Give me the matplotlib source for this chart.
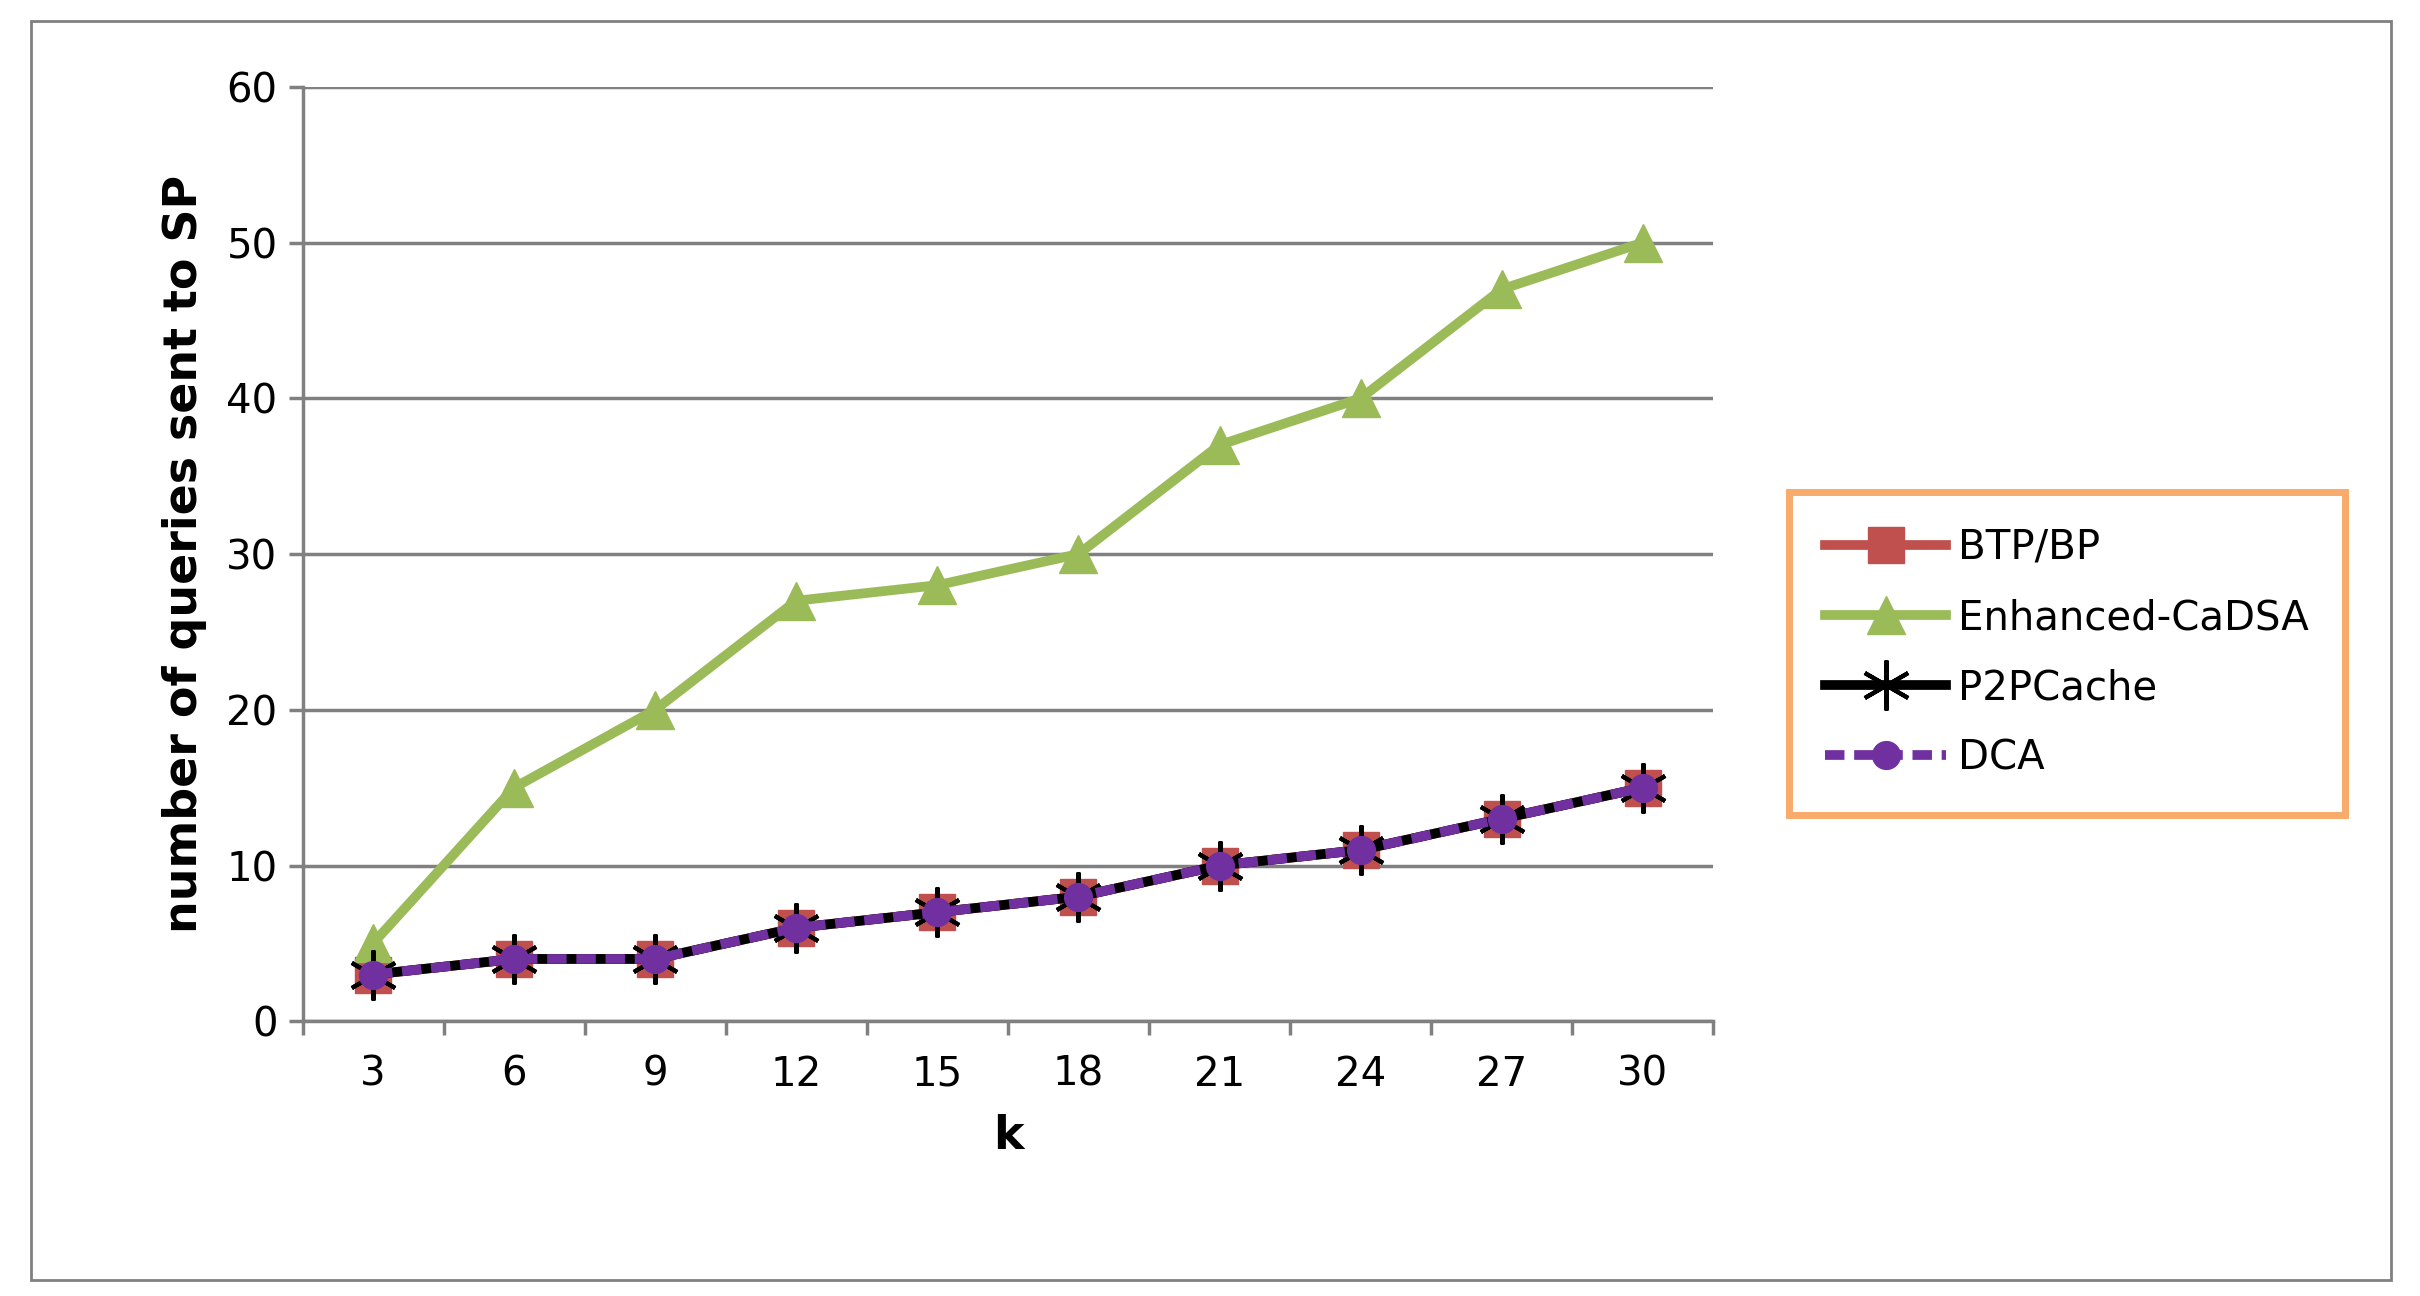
import matplotlib
matplotlib.use("Agg")
import matplotlib.pyplot as plt
from matplotlib.patches import Rectangle

k = [3, 6, 9, 12, 15, 18, 21, 24, 27, 30]
btp = [3, 4, 4, 6, 7, 8, 10, 11, 13, 15]
enh = [5, 15, 20, 27, 28, 30, 37, 40, 47, 50]
p2p = [3, 4, 4, 6, 7, 8, 10, 11, 13, 15]
dca = [3, 4, 4, 6, 7, 8, 10, 11, 13, 15]

fig = plt.figure(figsize=(24.2, 12.96), dpi=100)
fig.patches.append(Rectangle((0.013, 0.012), 0.975, 0.972, transform=fig.transFigure,
                             fill=False, edgecolor='#808080', linewidth=2))
ax = fig.add_axes([0.125, 0.212, 0.583, 0.721])
x = list(range(len(k)))
ax.plot(x, btp, color='#C0504D', lw=7, marker='s', ms=26, label='BTP/BP', zorder=3)
ax.plot(x, enh, color='#9BBB59', lw=7, marker='^', ms=28, label='Enhanced-CaDSA', zorder=3)
ax.plot(x, p2p, color='black', lw=7, marker=(6, 2, 0), ms=36, mew=3, label='P2PCache', zorder=4)
ax.plot(x, dca, color='#7030A0', lw=7, ls=(0, (2, 1)), marker='o', ms=20, label='DCA', zorder=5)

ax.set_xlim(-0.5, len(k) - 0.5)
ax.set_ylim(0, 60)
ax.set_yticks(range(0, 61, 10))
ax.set_xticks(x)
ax.set_xticklabels([str(v) for v in k])
ax.set_xticks([i - 0.5 for i in range(len(k) + 1)], minor=True)
ax.tick_params(axis='x', which='major', length=0, labelsize=29, pad=24)
ax.tick_params(axis='x', which='minor', length=10, width=2.5, color='#808080', direction='out')
ax.tick_params(axis='y', length=10, width=2.5, color='#808080', labelsize=29, pad=8)
ax.grid(axis='y', color='#808080', lw=2.5)
ax.set_axisbelow(True)
for s in ['top', 'right']:
    ax.spines[s].set_visible(False)
for s in ['left', 'bottom']:
    ax.spines[s].set_color('#808080')
    ax.spines[s].set_linewidth(2.5)
ax.set_xlabel('k', fontsize=33, fontweight='bold', labelpad=14)
ax.set_ylabel('number of queries sent to SP', fontsize=33, fontweight='bold', labelpad=14)

leg = fig.legend(loc='center left', bbox_to_anchor=(0.731, 0.496), fontsize=29,
                 frameon=True, fancybox=False, handlelength=3.0, labelspacing=0.75,
                 borderpad=0.9, handletextpad=0.3)
leg.get_frame().set_edgecolor('#F79646')
leg.get_frame().set_linewidth(5)
fig.savefig('out.png', dpi=100)
